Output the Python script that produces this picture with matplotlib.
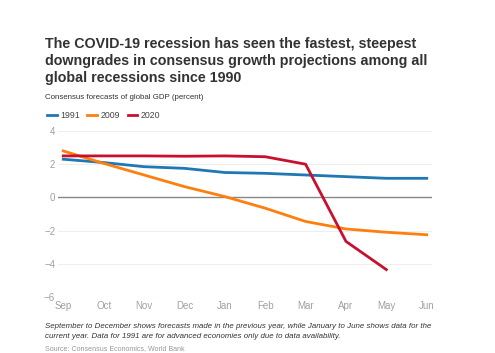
import matplotlib
matplotlib.use("Agg")
import matplotlib.pyplot as plt
from matplotlib.lines import Line2D

plt.rcParams['font.family'] = ['Liberation Sans', 'DejaVu Sans']
plt.rcParams['axes.unicode_minus'] = True

months = ["Sep", "Oct", "Nov", "Dec", "Jan", "Feb", "Mar", "Apr", "May", "Jun"]
gdp_1991 = [2.3, 2.1, 1.85, 1.75, 1.5, 1.45, 1.35, 1.25, 1.15, 1.15]
gdp_2009 = [2.8, 2.05, 1.35, 0.65, 0.05, -0.65, -1.45, -1.9, -2.1, -2.25]
gdp_2020 = [2.5, 2.5, 2.5, 2.48, 2.5, 2.45, 2.0, -2.65, -4.35]
yticks = [-6, -4, -2, 0, 2, 4]

COLORS = {"1991": "#1f77b4", "2009": "#ff7f0e", "2020": "#c8102e"}

W, H = 495, 353
fig = plt.figure(figsize=(W / 100, H / 100), dpi=100)
ax = fig.add_axes([58 / W, 1 - 297 / H, (432 - 58) / W, (297 - 131) / H])

x = list(range(len(months)))
ax.plot(x, gdp_1991, color=COLORS["1991"], lw=2)
ax.plot(x, gdp_2009, color=COLORS["2009"], lw=2)
ax.plot(x[:len(gdp_2020)], gdp_2020, color=COLORS["2020"], lw=2)

ax.set_ylim(-6, 4)
ax.set_xlim(-0.13, 9.13)
ax.set_yticks(yticks)
ax.set_yticklabels([str(v).replace("-", "\u2212") for v in yticks])
ax.set_xticks(x)
ax.set_xticklabels(months)
ax.tick_params(length=0, labelsize=7, colors="#a0a0a0")
ax.tick_params(axis="y", pad=2)
ax.tick_params(axis="x", pad=3)
for t in yticks:
    if t != 0:
        ax.axhline(t, color="#eeeeee", lw=0.8, zorder=0)
ax.axhline(0, color="#888888", lw=1, zorder=1)
for s in ax.spines.values():
    s.set_visible(False)

# title, one line at a time so the baselines sit where the reference has them
title_lines = [
    "The COVID-19 recession has seen the fastest, steepest",
    "downgrades in consensus growth projections among all",
    "global recessions since 1990",
]
for i, line in enumerate(title_lines):
    fig.text(45 / W, 1 - (48 + 17 * i) / H, line, fontsize=10.3,
             fontweight="bold", color="#333333", va="baseline")

fig.text(45 / W, 1 - 97 / H, "Consensus forecasts of global GDP (percent)",
         fontsize=5.7, color="#333333", va="center")

handles = [Line2D([], [], color=COLORS[k], lw=2) for k in ["1991", "2009", "2020"]]
fig.legend(handles, ["1991", "2009", "2020"], loc="center left",
           bbox_to_anchor=(41 / W, 1 - 116 / H), ncol=3, frameon=False,
           fontsize=6.3, handlelength=1.1, handletextpad=0.45, columnspacing=0.8,
           labelcolor="#444444", borderpad=0.2)

notes = [
    "September to December shows forecasts made in the previous year, while January to June shows data for the",
    "current year. Data for 1991 are for advanced economies only due to data availability.",
]
for i, line in enumerate(notes):
    fig.text(45 / W, 1 - (327 + 10 * i) / H, line, fontsize=5.65,
             style="italic", color="#333333", va="center")
fig.text(45 / W, 1 - 348.5 / H, "Source: Consensus Economics, World Bank",
         fontsize=5.1, color="#999999", va="center")

fig.savefig("out.png", dpi=100, facecolor="white")
